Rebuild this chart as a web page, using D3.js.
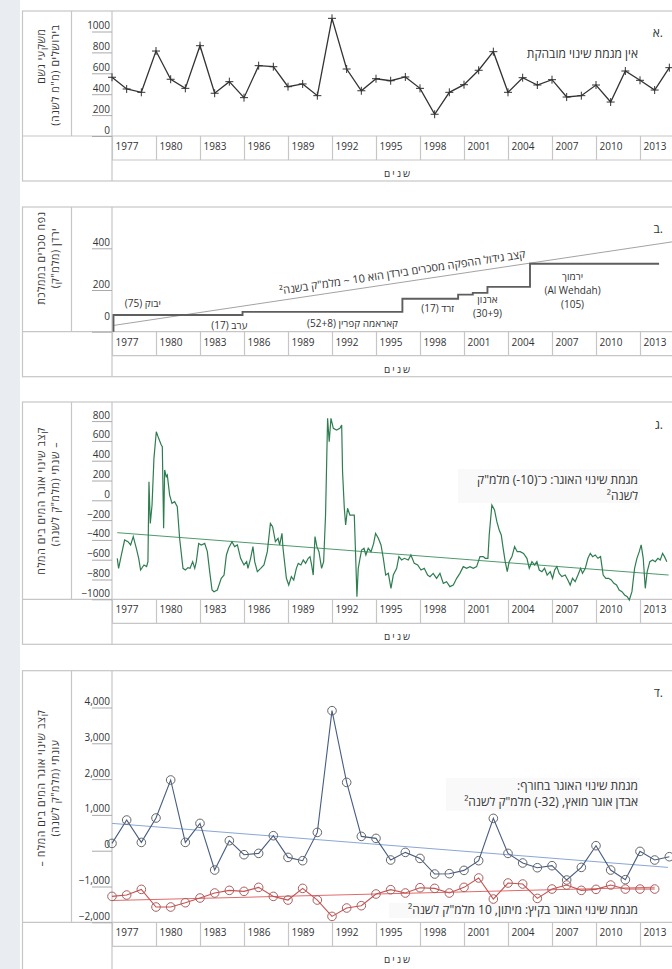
<!DOCTYPE html>
<meta charset="utf-8">
<style>
  body { margin: 0; background: #fff; }
  svg text { font-family: "Open Sans", "DejaVu Sans", sans-serif; fill: #333; }
</style>
<script src="https://d3js.org/d3.v7.min.js"></script>
<div id="chart"></div>
<script>
// ---- data ----
var yearTicks = [1977, 1980, 1983, 1986, 1989, 1992, 1995, 1998, 2001, 2004, 2007, 2010, 2013];

var rainYears = [1977, 1978, 1979, 1980, 1981, 1982, 1983, 1984, 1985, 1986, 1987, 1988, 1989,
  1990, 1991, 1992, 1993, 1994, 1995, 1996, 1997, 1998, 1999, 2000, 2001, 2002, 2003, 2004,
  2005, 2006, 2007, 2008, 2009, 2010, 2011, 2012, 2013, 2014, 2015];
// Jerusalem rainfall (mm/yr)
var rainValues = [562, 450, 418, 813, 543, 456, 864, 409, 520, 367, 673, 663, 472,
  498, 386, 1126, 641, 433, 548, 529, 565, 456, 208, 418, 491, 629, 807, 418,
  558, 488, 539, 373, 386, 488, 325, 622, 533, 440, 654];

// Jordan dams cumulative volume (MCM), step after each year
var damYears = [1977.1, 1977.1, 1985.9, 1996.8, 2000.6, 2001.6, 2002.6, 2005.5, 2014.3];
var damVolumes = [0, 80, 95, 158, 178, 186, 215, 326, 326];
var damTrend = [[1977.1, 30], [2015.3, 432]];

// annual storage change of the Dead Sea (MCM/yr)
var storageAnnual = [
  [1977.36, -586], [1977.45, -687], [1977.64, -552], [1977.86, -401], [1978.09, -418], [1978.27, -451],
  [1978.45, -367], [1978.66, -485], [1978.82, -586], [1978.95, -704], [1979.18, -653], [1979.36, -670],
  [1979.45, -620], [1979.52, 188], [1979.61, -233], [1979.73, -48], [1979.86, 424], [1980.02, 693],
  [1980.18, 626], [1980.36, 559], [1980.43, 542], [1980.52, -283], [1980.59, 306], [1980.70, 239],
  [1980.77, 255], [1980.93, 53], [1981.09, -31], [1981.27, -14], [1981.45, -64], [1981.61, -384],
  [1981.84, -687], [1982.00, -704], [1982.18, -680], [1982.32, -687], [1982.50, -620], [1982.64, -687],
  [1982.75, -620], [1982.91, -435], [1983.09, -451], [1983.32, -435], [1983.50, -519], [1983.66, -721],
  [1983.82, -906], [1983.95, -923], [1984.18, -906], [1984.45, -788], [1984.64, -755], [1984.80, -552],
  [1984.95, -485], [1985.18, -418], [1985.36, -468], [1985.55, -451], [1985.77, -586], [1986.00, -653],
  [1986.18, -620], [1986.27, -687], [1986.45, -586], [1986.61, -468], [1986.73, -620], [1986.91, -721],
  [1987.14, -687], [1987.36, -653], [1987.59, -519], [1987.80, -233], [1987.95, -266], [1988.14, -418],
  [1988.32, -384], [1988.43, -451], [1988.59, -334], [1988.66, -485], [1988.89, -788], [1989.05, -856],
  [1989.23, -771], [1989.39, -805], [1989.57, -687], [1989.70, -637], [1989.88, -653], [1990.04, -603],
  [1990.20, -637], [1990.38, -586], [1990.50, -569], [1990.61, -653], [1990.72, -755], [1990.84, -367],
  [1990.97, -468], [1991.11, -519], [1991.29, -687], [1991.43, -620], [1991.56, -149], [1991.70, 828],
  [1991.81, 592], [1991.93, 828], [1992.09, 727], [1992.31, 710], [1992.54, 727], [1992.66, 761],
  [1992.72, 289], [1992.84, -81], [1992.93, -249], [1993.06, -81], [1993.22, -149], [1993.38, -149],
  [1993.52, -149], [1993.61, -552], [1993.70, -973], [1993.79, -687], [1993.91, -586], [1994.02, -502],
  [1994.18, -485], [1994.31, -552], [1994.47, -485], [1994.66, -519], [1994.84, -435], [1994.97, -334],
  [1995.16, -384], [1995.34, -451], [1995.50, -586], [1995.66, -755], [1995.84, -738], [1996.02, -889],
  [1996.18, -755], [1996.41, -687], [1996.56, -569], [1996.75, -603], [1996.93, -586], [1997.20, -603],
  [1997.38, -552], [1997.61, -637], [1997.84, -653], [1998.07, -704], [1998.29, -687], [1998.52, -755],
  [1998.68, -771], [1998.90, -738], [1999.13, -788], [1999.36, -738], [1999.59, -839], [1999.81, -822],
  [2000.04, -872], [2000.27, -856], [2000.50, -788], [2000.72, -738], [2000.95, -670], [2001.18, -687],
  [2001.41, -670], [2001.63, -687], [2001.86, -670], [2002.09, -569], [2002.31, -569], [2002.45, -586],
  [2002.63, -586], [2002.72, -350], [2002.90, -48], [2003.08, -98], [2003.24, -216], [2003.40, -300],
  [2003.54, -350], [2003.67, -485], [2003.81, -620], [2003.95, -721], [2004.08, -620], [2004.27, -569],
  [2004.45, -468], [2004.63, -519], [2004.83, -519], [2005.06, -536], [2005.29, -586], [2005.45, -687],
  [2005.63, -620], [2005.81, -653], [2005.97, -620], [2006.13, -704], [2006.31, -721], [2006.49, -687],
  [2006.67, -755], [2006.88, -721], [2007.04, -788], [2007.18, -704], [2007.33, -670], [2007.49, -738],
  [2007.67, -771], [2007.90, -755], [2008.08, -805], [2008.24, -856], [2008.40, -788], [2008.58, -822],
  [2008.77, -755], [2008.95, -687], [2009.08, -738], [2009.27, -687], [2009.45, -586], [2009.61, -536],
  [2009.77, -569], [2009.95, -552], [2010.13, -586], [2010.31, -569], [2010.49, -755], [2010.67, -788],
  [2010.86, -788], [2011.04, -805], [2011.22, -839], [2011.40, -856], [2011.58, -906], [2011.77, -923],
  [2011.95, -956], [2012.13, -973], [2012.27, -1007], [2012.45, -923], [2012.63, -687], [2012.79, -586],
  [2012.95, -519], [2013.08, -451], [2013.22, -586], [2013.36, -889], [2013.49, -721], [2013.67, -620],
  [2013.86, -603], [2014.04, -620], [2014.22, -586], [2014.38, -603], [2014.54, -536], [2014.67, -569],
  [2014.83, -620]
];
var storageTrend = [[1977.36, -327], [2014.95, -755]];

// seasonal storage change (MCM/yr)
var seasonYears = rainYears;
var winterValues = [204, 857, 232, 913, 1975, 232, 763, -540, 279, -112, -75, 419, -187,
  -279, 511, 3911, 1908, 400, 344, -260, -47, -215, -651, -642, -550, -279, 903, -75,
  -344, -475, -419, -819, -466, 140, -540, -810, -19, -260, -168];
var summerValues = [-1276, -1238, -1080, -1573, -1573, -1453, -1322, -1182, -1108, -1136, -1024, -1276, -1378,
  -1052, -1378, -1835, -1601, -1536, -1210, -1089, -1182, -1034, -1052, -1182, -1024, -763, -1350, -903,
  -931, -1332, -1071, -959, -1108, -1080, -959, -1071, -1071, -1071];
var winterTrend = [[1977, 763], [2014.9, -466]];
var summerTrend = [[1977, -1390], [2014, -1020]];

// ---- layout ----
var W = 672, H = 969;
var lineCol = "#c6c6c6";
var svg = d3.select("#chart").append("svg").attr("width", W).attr("height", H);

svg.append("rect").attr("x", 0).attr("y", 0).attr("width", 20).attr("height", H).attr("fill", "#e9edf1");

var x = d3.scaleLinear().domain([1977, 2013]).range([112, 640]);

function panel(p) {
  var g = svg.append("g");
  var bottom = p.pb + p.foot;
  g.append("rect").attr("x", 22.5).attr("y", p.top).attr("width", 700).attr("height", bottom - p.top)
    .attr("fill", "#fff").attr("stroke", lineCol).attr("stroke-width", 1.2);
  g.append("line").attr("x1", 71.5).attr("x2", 71.5).attr("y1", p.top).attr("y2", p.pb).attr("stroke", lineCol).attr("stroke-width", 1.2);
  g.append("line").attr("x1", 112).attr("x2", 112).attr("y1", p.top).attr("y2", bottom).attr("stroke", lineCol).attr("stroke-width", 1.2);
  g.append("line").attr("x1", 22).attr("x2", 700).attr("y1", p.pb).attr("y2", p.pb).attr("stroke", lineCol).attr("stroke-width", 1.2);
  g.append("line").attr("x1", 112).attr("x2", 700).attr("y1", p.pb + 24).attr("y2", p.pb + 24).attr("stroke", lineCol).attr("stroke-width", 1.2);

  var y = d3.scaleLinear().domain(p.domain).range([p.pb, p.yTop]);

  // x axis (year row)
  var xa = g.append("g").attr("transform", "translate(0," + p.pb + ")")
    .call(d3.axisBottom(x).tickValues(yearTicks).tickSize(24).tickFormat(d3.format("d")));
  xa.select(".domain").remove();
  xa.selectAll("line").attr("stroke", lineCol).attr("stroke-width", 1.2);
  xa.selectAll("text").attr("x", 3).attr("y", 14).attr("dy", 0).attr("text-anchor", "start")
    .attr("font-size", 10).attr("fill", "#444");

  // y axis
  var ya = g.append("g").attr("transform", "translate(112,0)")
    .call(d3.axisLeft(y).tickValues(p.ticks).tickSize(20).tickFormat(p.fmt));
  ya.select(".domain").remove();
  ya.selectAll("line").attr("stroke", "#aaa");
  ya.selectAll("text").attr("x", -2).attr("dy", "-0.3em").attr("font-size", 10).attr("fill", "#444");
  if (p.zeroLift) {
    ya.selectAll(".tick").filter(function (d) { return d === 0; }).select("text")
      .attr("dy", (-3 - p.zeroLift) + "px");
  }

  g.append("text").attr("x", 398).attr("y", p.pb + 41).attr("text-anchor", "middle")
    .attr("font-size", 10).attr("letter-spacing", 2).attr("direction", "rtl").text("שנים");

  // y title, rotated
  p.title.forEach(function (t, i) {
    g.append("text")
      .attr("transform", "translate(" + (i === 0 ? 45 : 59) + "," + p.titleY[i] + ") rotate(-90)")
      .attr("text-anchor", "middle").attr("direction", "rtl")
      .attr("font-size", 10.5).attr("letter-spacing", 0.6).attr("fill", "#444").text(t);
  });

  g.append("text").attr("x", 663).attr("y", p.letterY).attr("text-anchor", "end")
    .attr("font-size", 12).attr("fill", "#444").text(p.letter);

  return { g: g, y: y };
}

// ---- A: rainfall ----
var pA = panel({ top: 11, pb: 136, foot: 45, yTop: 31.5, domain: [0, 1000], ticks: [0, 200, 400, 600, 800, 1000],
  fmt: d3.format("d"), title: ["משקעי גשם", "בירושלים (מ\"מ לשנה)"], titleY: [56, 75], letter: "א.", letterY: 37 });
var yA = pA.y;
var rainPts = rainYears.map(function (d, i) { return [d, rainValues[i]]; });
pA.g.append("path").datum(rainPts)
  .attr("d", d3.line().x(function (d) { return x(d[0]); }).y(function (d) { return yA(d[1]); }))
  .attr("fill", "none").attr("stroke", "#333").attr("stroke-width", 1.3);
pA.g.selectAll(".cross").data(rainPts).enter().append("path")
  .attr("transform", function (d) { return "translate(" + x(d[0]) + "," + yA(d[1]) + ")"; })
  .attr("d", "M-4,0H4M0,-4V4").attr("stroke", "#333").attr("stroke-width", 1);
pA.g.append("text").attr("x", 638).attr("y", 58).attr("text-anchor", "start").attr("direction", "rtl")
  .attr("font-size", 12).text("אין מגמת שינוי מובהקת");

// ---- B: dams ----
var pB = panel({ top: 207, pb: 331.7, foot: 45, yTop: 248.3, domain: [0, 400], ticks: [0, 200, 400],
  fmt: d3.format("d"), title: ["נפח סכרים בממלכת", "ירדן (מלמ\"ק)"], titleY: [258, 258], letter: "ב.", letterY: 233,
  zeroLift: 9 });
var yB = pB.y;
pB.g.append("path").datum(damTrend)
  .attr("d", d3.line().x(function (d) { return x(d[0]); }).y(function (d) { return yB(d[1]); }))
  .attr("fill", "none").attr("stroke", "#999").attr("stroke-width", 0.9);
pB.g.append("path").datum(damYears.map(function (d, i) { return [d, damVolumes[i]]; }))
  .attr("d", d3.line().curve(d3.curveStepAfter).x(function (d) { return x(d[0]); }).y(function (d) { return yB(d[1]); }))
  .attr("fill", "none").attr("stroke", "#5e5e5e").attr("stroke-width", 1.9);

var tx1 = x(damTrend[0][0]), ty1 = yB(damTrend[0][1]), tx2 = x(damTrend[1][0]), ty2 = yB(damTrend[1][1]);
var ang = Math.atan2(ty2 - ty1, tx2 - tx1) * 180 / Math.PI;
var lx = 403, ly = ty1 + (ty2 - ty1) * (lx - tx1) / (tx2 - tx1) - 6;
pB.g.append("text").attr("transform", "translate(" + lx + "," + ly + ") rotate(" + ang + ")")
  .attr("text-anchor", "middle").attr("direction", "rtl").attr("font-size", 11)
  .text("קצב גידול ההפקה מסכרים בירדן הוא 10 ~ מלמ\"ק בשנה²");

var damLabels = [
  { t: 1979.1, v: 118, s: "יבוק (75)" },
  { t: 1985.0, v: 12, s: "ערב (17)" },
  { t: 1993.4, v: 24, s: "קאראמה קפרין (52+8)" },
  { t: 1999.2, v: 93, s: "זרד (17)" },
  { t: 2002.6, v: 137, s: "ארנון" },
  { t: 2002.6, v: 69, s: "(30+9)" },
  { t: 2008.4, v: 248, s: "ירמוך" },
  { t: 2008.4, v: 181, s: "(Al Wehdah)" },
  { t: 2008.4, v: 114, s: "(105)" }
];
pB.g.selectAll(".dl").data(damLabels).enter().append("text")
  .attr("x", function (d) { return x(d.t); }).attr("y", function (d) { return yB(d.v); })
  .attr("text-anchor", "middle").attr("direction", "rtl").attr("font-size", 10).attr("fill", "#444")
  .text(function (d) { return d.s; });

// ---- C: annual storage change ----
var pC = panel({ top: 402, pb: 599.3, foot: 45, yTop: 421.1, domain: [-1000, 800],
  ticks: [-1000, -800, -600, -400, -200, 0, 200, 400, 600, 800], fmt: d3.format("d"),
  title: ["קצב שינוי אוגר המים בים המלח", "– שנתי (מלמ\"ק לשנה)"], titleY: [501, 494], letter: "ג.", letterY: 429 });
var yC = pC.y;
var lineC = d3.line().x(function (d) { return x(d[0]); }).y(function (d) { return yC(d[1]); });
pC.g.append("rect").attr("x", 458).attr("y", 469).attr("width", 182).attr("height", 34).attr("fill", "#f9f9f9");
pC.g.append("path").datum(storageTrend).attr("d", lineC).attr("fill", "none").attr("stroke", "#4f9a6c").attr("stroke-width", 1);
pC.g.append("path").datum(storageAnnual).attr("d", lineC).attr("fill", "none").attr("stroke", "#2e7d50").attr("stroke-width", 1.2);
pC.g.append("text").attr("x", 638).attr("y", 484).attr("text-anchor", "start").attr("direction", "rtl")
  .attr("font-size", 12).attr("fill", "#3a8a5c").text("מגמת שינוי האוגר: כ־(10-) מלמ\"ק");
pC.g.append("text").attr("x", 638).attr("y", 500).attr("text-anchor", "start").attr("direction", "rtl")
  .attr("font-size", 12).attr("fill", "#3a8a5c").text("לשנה²");

// ---- D: seasonal storage change ----
var pD = panel({ top: 670.7, pb: 922.3, foot: 48, yTop: 707.5, domain: [-2000, 4000],
  ticks: [-2000, -1000, 0, 1000, 2000, 3000, 4000], fmt: d3.format(","),
  title: ["קצב שינוי אוגר המים בים המלח –", "עונתי (מלמ\"ק לשנה)"], titleY: [788, 788], letter: "ד.", letterY: 697 });
var yD = pD.y;
var lineD = d3.line().x(function (d) { return x(d[0]); }).y(function (d) { return yD(d[1]); });
var winterPts = seasonYears.map(function (d, i) { return [d, winterValues[i]]; });
var summerPts = summerValues.map(function (v, i) { return [seasonYears[i], v]; });

pD.g.append("rect").attr("x", 446).attr("y", 778).attr("width", 194).attr("height", 33).attr("fill", "#f9f9fa");
pD.g.append("rect").attr("x", 389).attr("y", 903).attr("width", 251).attr("height", 15).attr("fill", "#f9f9f9");

pD.g.append("path").datum(winterTrend).attr("d", lineD).attr("fill", "none").attr("stroke", "#8aa6d4").attr("stroke-width", 1);
pD.g.append("path").datum(summerTrend).attr("d", lineD).attr("fill", "none").attr("stroke", "#e26a6a").attr("stroke-width", 1.1);
pD.g.append("path").datum(winterPts).attr("d", lineD).attr("fill", "none").attr("stroke", "#465d82").attr("stroke-width", 1.1);
pD.g.append("path").datum(summerPts).attr("d", lineD).attr("fill", "none").attr("stroke", "#c9504f").attr("stroke-width", 1.1);
pD.g.selectAll(".wc").data(winterPts).enter().append("circle")
  .attr("cx", function (d) { return x(d[0]); }).attr("cy", function (d) { return yD(d[1]); })
  .attr("r", 4.3).attr("fill", "none").attr("stroke", "#666").attr("stroke-width", 1);
pD.g.selectAll(".sc").data(summerPts).enter().append("circle")
  .attr("cx", function (d) { return x(d[0]); }).attr("cy", function (d) { return yD(d[1]); })
  .attr("r", 4.3).attr("fill", "none").attr("stroke", "#a86060").attr("stroke-width", 1);

pD.g.append("text").attr("x", 638).attr("y", 790).attr("text-anchor", "start").attr("direction", "rtl")
  .attr("font-size", 12).attr("fill", "#2f6aa8").text("מגמת שינוי האוגר בחורף:");
pD.g.append("text").attr("x", 638).attr("y", 806).attr("text-anchor", "start").attr("direction", "rtl")
  .attr("font-size", 12).attr("fill", "#2f6aa8").text("אבדן אוגר מואץ, (32-) מלמ\"ק לשנה²");
pD.g.append("text").attr("x", 638).attr("y", 914).attr("text-anchor", "start").attr("direction", "rtl")
  .attr("font-size", 12).attr("fill", "#d8453c").text("מגמת שינוי האוגר בקיץ: מיתון, 10 מלמ\"ק לשנה²");
</script>
